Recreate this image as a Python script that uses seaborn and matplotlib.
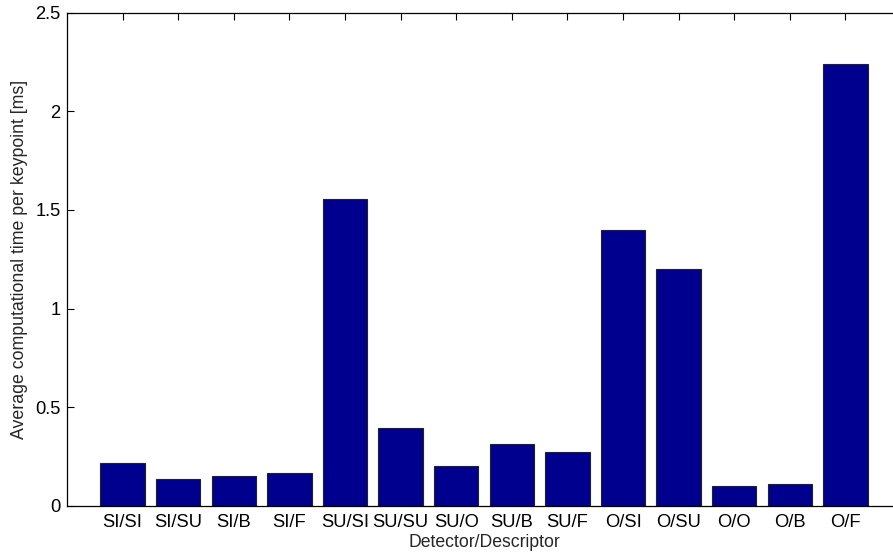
import matplotlib
matplotlib.use("Agg")
import pandas as pd
import seaborn as sns
import matplotlib.pyplot as plt

# detector/descriptor pairs and average time per keypoint (ms)
pairs = ["SI/SI", "SI/SU", "SI/B", "SI/F", "SU/SI", "SU/SU", "SU/O",
         "SU/B", "SU/F", "O/SI", "O/SU", "O/O", "O/B", "O/F"]
times_ms = [0.219, 0.134, 0.149, 0.165, 1.554, 0.394, 0.204,
            0.314, 0.274, 1.398, 1.201, 0.102, 0.113, 2.240]
ytick_vals = [0, 0.5, 1, 1.5, 2, 2.5]
ytick_labels = ["0", "0.5", "1", "1.5", "2", "2.5"]

df = pd.DataFrame({"pair": pairs, "time": times_ms})

sns.set_style("ticks")
plt.rcParams["font.family"] = ["Liberation Sans", "DejaVu Sans"]

fig = plt.figure(figsize=(8.93, 5.54), dpi=100)
ax = fig.add_axes([0.075, 0.087, 0.934, 0.89])

sns.barplot(data=df, x="pair", y="time", color="#00008F", saturation=1,
            width=0.8, edgecolor="#222222", linewidth=0.8, ax=ax)

ax.set_xlim(-1, len(pairs))
ax.set_ylim(0, 2.5)
ax.set_yticks(ytick_vals)
ax.set_yticklabels(ytick_labels)
ax.set_axisbelow(True)
ax.tick_params(direction="in", top=True, right=True, length=5, width=0.8,
               labelsize=13.2, colors="black")
ax.tick_params(axis="y", pad=4.5)
ax.tick_params(axis="x", pad=6)
for s in ax.spines.values():
    s.set_linewidth(0.9)
    s.set_color("black")

ax.set_xlabel("Detector/Descriptor", fontsize=12.7, labelpad=2)
ax.set_ylabel("Average computational time per keypoint [ms]", fontsize=12.8, labelpad=5.5)

fig.savefig("out.png", dpi=100)
